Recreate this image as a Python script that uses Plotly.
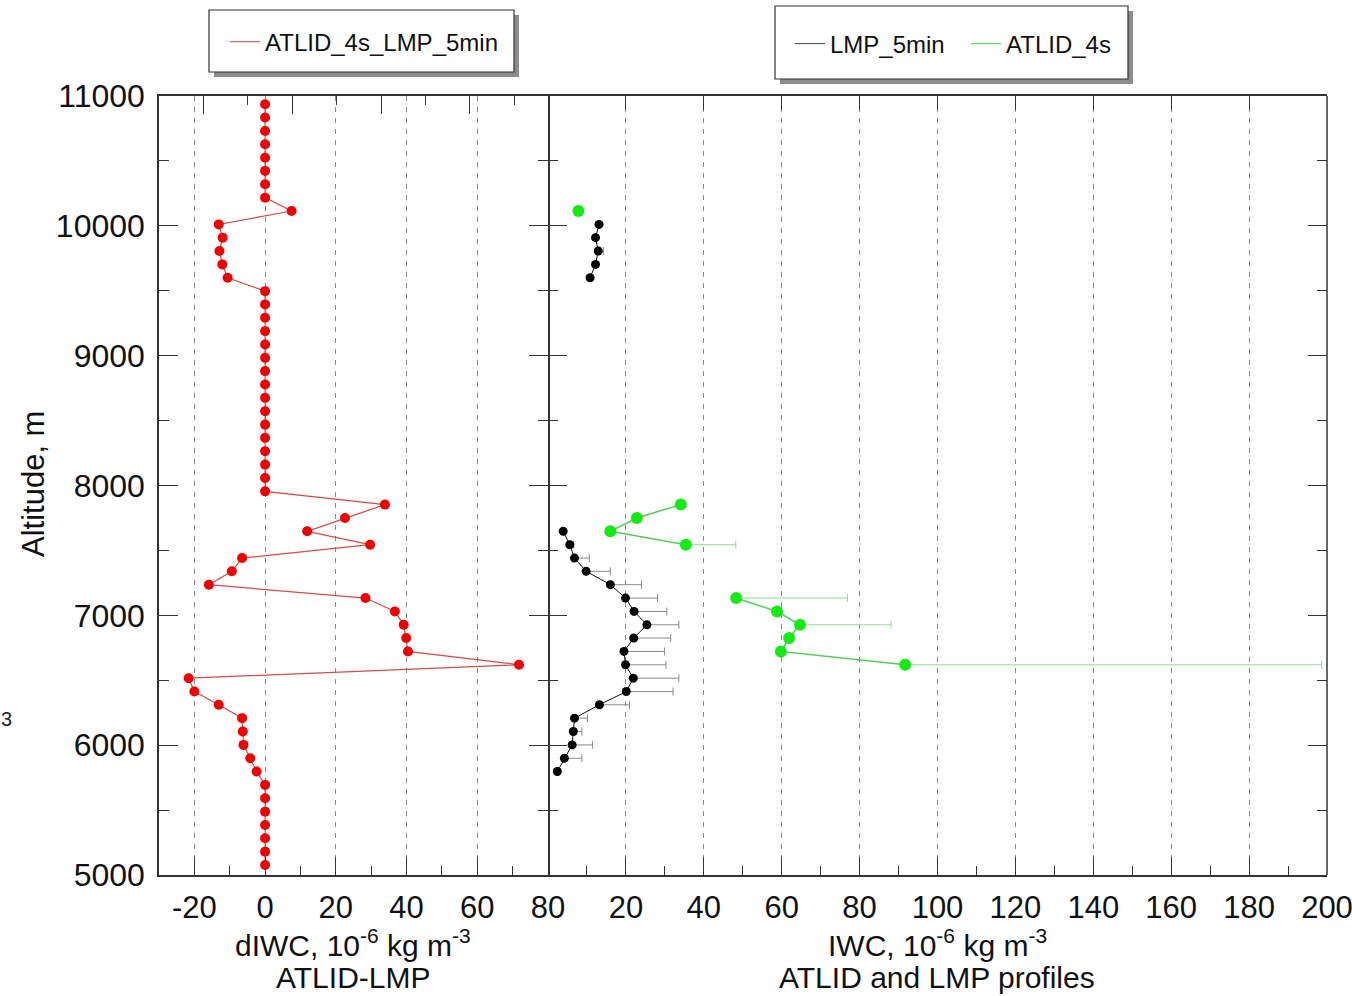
import plotly.graph_objects as go

# ---------------- data ----------------
altitude_m = [5077, 5180, 5283, 5385, 5488, 5591, 5694, 5797, 5899, 6002,
              6105, 6208, 6311, 6413, 6516, 6619, 6722, 6825, 6927, 7030,
              7133, 7236, 7339, 7441, 7544, 7647, 7750, 7853, 7955, 8058,
              8161, 8264, 8367, 8469, 8572, 8675, 8778, 8881, 8983, 9086,
              9189, 9292, 9395, 9497, 9600, 9703, 9806, 9909, 10011, 10114,
              10217, 10320, 10423, 10525, 10628, 10731, 10834, 10937]

dIWC_atlid_minus_lmp = [0, 0, 0, 0, 0, 0, 0, -2.4, -4.2, -6.1,
                        -6.3, -6.5, -13.1, -20.0, -21.6, 71.8, 40.4, 39.9, 39.2, 36.7,
                        28.4, -15.9, -9.4, -6.5, 29.7, 11.9, 22.6, 33.9, 0, 0,
                        0, 0, 0, 0, 0, 0, 0, 0, 0, 0,
                        0, 0, 0, 0, -10.6, -12.1, -12.9, -12.0, -13.1, 7.5,
                        0, 0, 0, 0, 0, 0, 0, 0]

N = None
lmp_5min_iwc = [N, N, N, N, N, N, N, 2.4, 4.2, 6.2,
                6.5, 6.8, 13.2, 20.1, 21.9, 19.9, 19.5, 22.0, 25.4, 22.1,
                19.9, 16.0, 9.8, 6.8, 5.6, 3.9, N, N, N, N,
                N, N, N, N, N, N, N, N, N, N,
                N, N, N, N, 10.8, 12.2, 12.9, 12.2, 13.1, N,
                N, N, N, N, N, N, N, N]
lmp_5min_err_plus = [0, 0, 0, 0, 0, 0, 0, 0, 4.5, 5.2,
                     2.2, 3.3, 7.7, 12.0, 11.7, 10.4, 10.4, 9.5, 8.2, 8.4,
                     8.2, 8.0, 6.2, 3.8, 1.0, 0, 0, 0, 0, 0,
                     0, 0, 0, 0, 0, 0, 0, 0, 0, 0,
                     0, 0, 0, 0, 0, 0, 1.3, 0, 0, 0,
                     0, 0, 0, 0, 0, 0, 0, 0]

atlid_4s_iwc = [N, N, N, N, N, N, N, N, N, N,
                N, N, N, N, N, 91.7, 59.8, 61.9, 64.7, 58.8,
                48.3, N, N, N, 35.4, 16.0, 22.8, 34.1, N, N,
                N, N, N, N, N, N, N, N, N, N,
                N, N, N, N, N, N, N, N, N, 7.8,
                N, N, N, N, N, N, N, N]
atlid_4s_err_plus = [0, 0, 0, 0, 0, 0, 0, 0, 0, 0,
                     0, 0, 0, 0, 0, 106.9, 0, 0, 23.4, 0,
                     28.6, 0, 0, 0, 12.8, 0, 0, 0, 0, 0,
                     0, 0, 0, 0, 0, 0, 0, 0, 0, 0,
                     0, 0, 0, 0, 0, 0, 0, 0, 0, 0,
                     0, 0, 0, 0, 0, 0, 0, 0]
zeros = [0] * len(altitude_m)

left_xrange = [-30, 80]
right_xrange = [0, 200]
left_ticks = [-20, 0, 20, 40, 60, 80]
left_ticklabels = ["-20", "0", "20", "40", "60", "80"]
right_ticks = [20, 40, 60, 80, 100, 120, 140, 160, 180, 200]
right_ticklabels = ["20", "40", "60", "80", "100", "120", "140", "160", "180", "200"]
y_ticks = [5000, 6000, 7000, 8000, 9000, 10000, 11000]
y_ticklabels = ["5000", "6000", "7000", "8000", "9000", "10000", "11000"]

# ---------------- layout helpers (pixel -> paper) ----------------
W, H = 1352, 996
L, R, T, B = 159, 1327, 96, 875
SPLIT = 548


def px(x):
    return (x - L) / (R - L)


def py(y):
    return (B - y) / (B - T)


FONT = "Arial, 'Liberation Sans', Helvetica, sans-serif"
AX = "#333333"
RED_M = "#f20000"
RED_L = "#d84a4a"
GREEN_M = "#14ea14"
GREEN_L = "#55cc55"
GREEN_E = "#8fe08f"

fig = go.Figure()

# left panel: dIWC
fig.add_trace(go.Scatter(
    x=dIWC_atlid_minus_lmp, y=altitude_m, mode="lines+markers",
    line=dict(color=RED_L, width=1.2),
    marker=dict(color=RED_M, size=10, line=dict(width=0)),
    showlegend=False, xaxis="x", yaxis="y"))

# right panel: LMP
fig.add_trace(go.Scatter(
    x=lmp_5min_iwc, y=altitude_m, mode="lines+markers",
    line=dict(color="#111111", width=1),
    marker=dict(color="#000000", size=9, line=dict(width=0)),
    error_x=dict(type="data", symmetric=False, array=lmp_5min_err_plus,
                 arrayminus=zeros, color="#8a8a8a", thickness=1, width=4),
    showlegend=False, xaxis="x2", yaxis="y"))

# right panel: ATLID
fig.add_trace(go.Scatter(
    x=atlid_4s_iwc, y=altitude_m, mode="lines+markers",
    line=dict(color=GREEN_L, width=1.5),
    marker=dict(color=GREEN_M, size=12, line=dict(width=0)),
    error_x=dict(type="data", symmetric=False, array=atlid_4s_err_plus,
                 arrayminus=zeros, color=GREEN_E, thickness=1, width=4),
    showlegend=False, xaxis="x2", yaxis="y"))

# dummy traces to activate the top overlay axes / right y axis
fig.add_trace(go.Scatter(x=[None], y=[None], xaxis="x3", yaxis="y",
                         showlegend=False, hoverinfo="skip"))
fig.add_trace(go.Scatter(x=[None], y=[None], xaxis="x4", yaxis="y",
                         showlegend=False, hoverinfo="skip"))
fig.add_trace(go.Scatter(x=[None], y=[None], xaxis="x2", yaxis="y2",
                         showlegend=False, hoverinfo="skip"))

# legend entries (line only)
fig.add_trace(go.Scatter(x=[None], y=[None], mode="lines",
                         line=dict(color="#e06a6a", width=1.2),
                         name="ATLID_4s_LMP_5min", legend="legend",
                         xaxis="x", yaxis="y"))
fig.add_trace(go.Scatter(x=[None], y=[None], mode="lines",
                         line=dict(color="#444444", width=1),
                         name="LMP_5min", legend="legend2",
                         xaxis="x2", yaxis="y"))
fig.add_trace(go.Scatter(x=[None], y=[None], mode="lines",
                         line=dict(color="#66dd66", width=1.2),
                         name="ATLID_4s", legend="legend2",
                         xaxis="x2", yaxis="y"))

xsplit = px(SPLIT)
common_x = dict(showline=True, linecolor=AX, linewidth=1.5,
                ticks="inside", ticklen=18, tickwidth=1.2, tickcolor=AX,
                showgrid=True, gridcolor="#8a8a8a", gridwidth=1, griddash="5px,6px",
                zeroline=False, tickfont=dict(size=31, color="#111"),
                ticklabelstandoff=4, automargin=False, ticklabeloverflow="allow")
minor_x = dict(dtick=10, tick0=0, ticks="inside", ticklen=9,
               tickcolor=AX, showgrid=False)
minor_y = dict(dtick=500, tick0=5000, ticks="inside", ticklen=10,
               tickcolor=AX, showgrid=False)

fig.update_layout(
    width=W, height=H,
    margin=dict(l=L, r=W - R, t=T, b=H - B, pad=0, autoexpand=False),
    paper_bgcolor="white", plot_bgcolor="white",
    font=dict(family=FONT, color="#111"),
    xaxis=dict(domain=[0, xsplit], range=left_xrange, anchor="y",
               tickvals=left_ticks, ticktext=left_ticklabels,
               minor=minor_x, **common_x),
    xaxis2=dict(domain=[xsplit, 1], range=right_xrange, anchor="y",
                tickvals=right_ticks, ticktext=right_ticklabels,
                minor=minor_x, **common_x),
    xaxis3=dict(overlaying="x", side="top", anchor="y", range=[-10, 77.6],
                dtick=20, tick0=0, showticklabels=False, showgrid=False,
                zeroline=False, showline=True, linecolor=AX, linewidth=1.5,
                ticks="inside", ticklen=18, tickwidth=1.2, tickcolor=AX,
                automargin=False, minor=minor_x),
    xaxis4=dict(overlaying="x2", side="top", anchor="y", range=right_xrange,
                dtick=20, tick0=0, showticklabels=False, showgrid=False,
                zeroline=False, showline=True, linecolor=AX, linewidth=1.5,
                ticks="inside", ticklen=14, tickwidth=1.2, tickcolor=AX,
                automargin=False),
    yaxis=dict(domain=[0, 1], range=[5000, 11000], anchor="x",
               tickvals=y_ticks, ticktext=y_ticklabels,
               showline=True, linecolor=AX, linewidth=1.5,
               mirror="ticks", ticks="inside", ticklen=19, tickwidth=1.2,
               tickcolor=AX, showgrid=False, zeroline=False,
               tickfont=dict(size=32, color="#111"), ticklabelstandoff=6,
               automargin=False, minor=minor_y),
    yaxis2=dict(matches="y", overlaying="y", anchor="x2",
                showticklabels=False, showline=False, mirror="ticks",
                ticks="inside", ticklen=19, tickwidth=1.2,
                tickcolor=AX, showgrid=False, zeroline=False,
                tickvals=y_ticks, automargin=False, minor=minor_y),
    legend=dict(orientation="h", x=px(225), y=py(42), xanchor="left",
                yanchor="middle", bgcolor="rgba(0,0,0,0)", borderwidth=0,
                font=dict(size=24, color="#111"), itemwidth=30),
    legend2=dict(orientation="h", x=px(790), y=py(44), xanchor="left",
                 yanchor="middle", bgcolor="rgba(0,0,0,0)", borderwidth=0,
                 font=dict(size=24, color="#111"), itemwidth=30,
                 entrywidth=131, entrywidthmode="pixels"),
    showlegend=True,
)

shapes = []
# right border of the right panel
shapes.append(dict(type="line", xref="paper", yref="paper", x0=1, x1=1,
                   y0=0, y1=1, line=dict(color=AX, width=1.5), layer="above"))
# legend boxes with drop shadow
for (x0, y0, x1, y1) in [(209, 10, 514, 72), (775, 6, 1128, 79)]:
    shapes.append(dict(type="rect", xref="paper", yref="paper",
                       x0=px(x0 + 5), x1=px(x1 + 5), y0=py(y1 + 5), y1=py(y0 + 5),
                       fillcolor="#8c8c8c", line=dict(width=0), layer="above"))
    shapes.append(dict(type="rect", xref="paper", yref="paper",
                       x0=px(x0), x1=px(x1), y0=py(y1), y1=py(y0),
                       fillcolor="white", line=dict(color="#333", width=1.2),
                       layer="above"))
fig.update_layout(shapes=shapes)

ann = [
    dict(text="dIWC, 10<sup>-6</sup> kg m<sup>-3</sup>", x=px(353), y=py(943)),
    dict(text="ATLID-LMP", x=px(353), y=py(977)),
    dict(text="IWC, 10<sup>-6</sup> kg m<sup>-3</sup>", x=px(937), y=py(943)),
    dict(text="ATLID and LMP profiles", x=px(937), y=py(977)),
]
annotations = []
for a in ann:
    annotations.append(dict(xref="paper", yref="paper", showarrow=False,
                            xanchor="center", yanchor="middle",
                            font=dict(size=30, color="#111"), **a))
annotations.append(dict(xref="paper", yref="paper", showarrow=False,
                        text="Altitude, m", textangle=-90, x=px(33), y=py(484),
                        xanchor="center", yanchor="middle",
                        font=dict(size=31, color="#111")))
annotations.append(dict(xref="paper", yref="paper", showarrow=False,
                        text="3", x=px(6), y=py(719), xanchor="center",
                        yanchor="middle", font=dict(size=20, color="#222")))
fig.update_layout(annotations=annotations)

fig.write_html("out.html",
               config={"displayModeBar": False},
               post_script="document.body.style.margin='0';document.body.style.overflow='hidden';")
